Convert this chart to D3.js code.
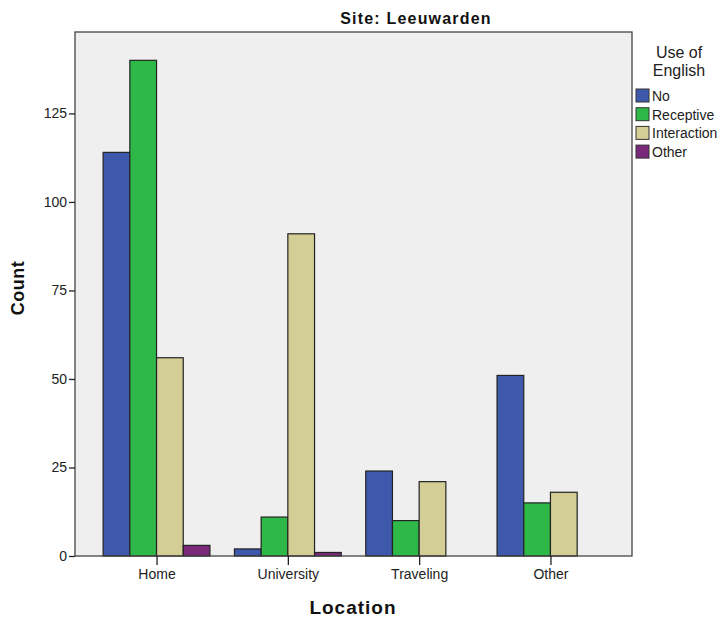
<!DOCTYPE html>
<html><head><meta charset="utf-8">
<script src="https://cdn.jsdelivr.net/npm/d3@7"></script>
<style>body{margin:0;background:#fff;} text{font-family:"Liberation Sans",Arial,sans-serif;}</style>
</head><body>
<svg id="c" width="723" height="618"></svg>
<script>
const categories = ["Home", "University", "Traveling", "Other"];
const seriesNames = ["No", "Receptive", "Interaction", "Other"];
const seriesNo = [114, 2, 24, 51];
const seriesReceptive = [140, 11, 10, 15];
const seriesInteraction = [56, 91, 21, 18];
const seriesOther = [3, 1, 0, 0];
const yTicks = [0, 25, 50, 75, 100, 125];
const colors = ["#3E58AC", "#2EB848", "#D2CE96", "#7A287A"];

const allSeries = [seriesNo, seriesReceptive, seriesInteraction, seriesOther];
const svg = d3.select("#c");
const L = 75, R = 632, T = 32, B = 556;

const x = d3.scalePoint().domain(categories).range([L, R]).padding(0.621);
const y = d3.scaleLinear().domain([0, 148]).range([B, T]);
const barW = 26.7;
const xs = d3.scaleBand().domain(seriesNames.map((d,i)=>i)).range([-2*barW, 2*barW]).padding(0);

svg.append("rect").attr("x", L).attr("y", T).attr("width", R-L).attr("height", B-T)
  .attr("fill", "#EFEFEF");

const groups = svg.append("g");
categories.forEach((c, ci) => {
  allSeries.forEach((s, si) => {
    const v = s[ci];
    if (v <= 0) return;
    groups.append("rect")
      .attr("x", x(c) + xs(si))
      .attr("y", y(v))
      .attr("width", xs.bandwidth())
      .attr("height", y(0) - y(v))
      .attr("fill", colors[si])
      .attr("stroke", "#222")
      .attr("stroke-width", 1.2);
  });
});

svg.append("rect").attr("x", L).attr("y", T).attr("width", R-L).attr("height", B-T)
  .attr("fill", "none").attr("stroke", "#444").attr("stroke-width", 1.3);

const yAxis = svg.append("g").attr("transform", `translate(${L},0)`)
  .call(d3.axisLeft(y).tickValues(yTicks).tickSize(6).tickPadding(2));
yAxis.select(".domain").remove();
yAxis.selectAll("line").attr("stroke", "#222").attr("stroke-width", 1.3);
yAxis.selectAll("text").attr("font-size", 14).attr("fill", "#222")
  .style("font-family", "Liberation Sans, Arial, sans-serif");

const xAxis = svg.append("g").attr("transform", `translate(0,${B})`)
  .call(d3.axisBottom(x).tickSize(9).tickPadding(4));
xAxis.select(".domain").remove();
xAxis.selectAll("line").attr("stroke", "#222").attr("stroke-width", 1.3);
xAxis.selectAll("text").attr("font-size", 14).attr("fill", "#222")
  .style("font-family", "Liberation Sans, Arial, sans-serif");

svg.append("text").attr("x", 416).attr("y", 24).attr("text-anchor", "middle")
  .attr("font-size", 16).attr("letter-spacing", 1.2).attr("font-weight", "bold").attr("fill", "#111").text("Site: Leeuwarden");
svg.append("text").attr("x", 353).attr("y", 614).attr("text-anchor", "middle")
  .attr("font-size", 19).attr("letter-spacing", 1).attr("font-weight", "bold").attr("fill", "#111").text("Location");
svg.append("text").attr("transform", "translate(24,288) rotate(-90)").attr("text-anchor", "middle")
  .attr("font-size", 18).attr("letter-spacing", 0.5).attr("font-weight", "bold").attr("fill", "#111").text("Count");

const lg = svg.append("g");
lg.append("text").attr("x", 679).attr("y", 58).attr("text-anchor", "middle").attr("font-size", 16).attr("fill", "#222").text("Use of");
lg.append("text").attr("x", 679).attr("y", 76).attr("text-anchor", "middle").attr("font-size", 16).attr("fill", "#222").text("English");
seriesNames.forEach((n, i) => {
  const yy = 89 + i * 18.7;
  lg.append("rect").attr("x", 636).attr("y", yy).attr("width", 13).attr("height", 13)
    .attr("fill", colors[i]).attr("stroke", "#333").attr("stroke-width", 1);
  lg.append("text").attr("x", 652).attr("y", yy + 12).attr("font-size", 14).attr("fill", "#222").text(n);
});
</script>
</body></html>
